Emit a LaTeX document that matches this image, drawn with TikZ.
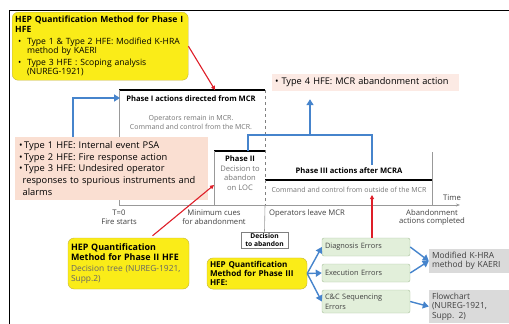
\documentclass[tikz,border=0pt]{standalone}
\usepackage{fontspec}
\setmainfont{Open Sans}
\usetikzlibrary{arrows.meta, positioning, calc}
\definecolor{hepyellow}{RGB}{250,236,24}
\definecolor{hepedge}{RGB}{196,180,60}
\definecolor{typepink}{RGB}{250,223,210}
\definecolor{typefour}{RGB}{252,234,228}
\definecolor{errgreen}{RGB}{226,239,218}
\definecolor{erredge}{RGB}{168,192,156}
\definecolor{methgray}{RGB}{218,218,218}
\definecolor{flowblue}{RGB}{70,132,204}
\definecolor{cuered}{RGB}{222,30,40}

\begin{document}
\begin{tikzpicture}[
    x=1pt, y=-1pt,
    hepbox/.style={draw=hepedge, fill=hepyellow, rounded corners=6pt, inner sep=3pt, align=left},
    typebox/.style={fill=typepink, inner sep=4pt, align=left},
    errbox/.style={draw=erredge, fill=errgreen, rounded corners=2pt, align=left, inner sep=3pt,
                   minimum width=88pt, text width=82pt, font=\fontsize{7.4}{8.8}\selectfont, text=black!75},
    methbox/.style={fill=methgray, align=left, inner sep=3pt, minimum width=80pt, text width=76pt,
                    font=\fontsize{8.4}{9.4}\selectfont, text=black!75},
    phaseline/.style={line width=1.4pt, black},
    guide/.style={gray!80, line width=0.6pt},
    phasetitle/.style={font=\bfseries\fontsize{7.6}{8.5}\selectfont},
    phasetext/.style={font=\fontsize{7}{9}\selectfont, text=gray!90!black, align=center, inner sep=1pt},
    ticklabel/.style={font=\fontsize{7.7}{8.8}\selectfont, text=black!75, align=center, inner sep=1pt},
    bluearrow/.style={-{Triangle[length=6pt, width=7pt]}, flowblue, line width=1.8pt},
    blueline/.style={flowblue, line width=1.8pt},
    redarrow/.style={-{Triangle[length=4pt, width=4pt]}, cuered, line width=1.1pt}
]
\useasboundingbox (0,0) rectangle (509,324);

% Marco
\draw[black, line width=1pt] (9,324) -- (9,10) -- (509,10);

% Metodo fase I
\node[hepbox, anchor=north west, minimum width=174pt, minimum height=68pt, text width=170pt,
      font=\fontsize{8.6}{9.6}\selectfont] (hepI) at (12,12) {%
    \textbf{HEP Quantification Method for Phase I}\\\textbf{HFE}\\[2pt]
    \ \textbullet\ \ Type 1 \& Type 2 HFE: Modified K-HRA\\
    \phantom{\ \textbullet\ \ }method by KAERI\\[2pt]
    \ \textbullet\ \ Type 3 HFE\ : Scoping analysis\\
    \phantom{\ \textbullet\ \ }(NUREG-1921)};

% Fase I
\draw[phaseline] (119,90) -- (265,90);
\draw[guide] (119,90) -- (119,205);
\node[phasetitle] (phaseI) at (191,99) {Phase I actions directed from MCR};
\node[phasetext] (phaseIdesc) at (191,122.5) {Operators remain in MCR.\\Command and control from the MCR.};

% Fase II
\draw[phaseline] (214,151) -- (265,151);
\draw[guide] (214,151) -- (214,205);
\node[phasetitle] (phaseII) at (240,159) {Phase II};
\node[phasetext, font=\fontsize{7.6}{9.4}\selectfont] (phaseIIdesc) at (240,178) {Decision to\\abandon\\on LOC};

% Fase III
\draw[phaseline] (265,180) -- (432,180);
\draw[guide] (432,152) -- (432,205);
\node[phasetitle] (phaseIII) at (349,171) {Phase III actions after MCRA};
\node[phasetext, font=\fontsize{7}{7.5}\selectfont] (phaseIIIdesc) at (349,190) {Command and control from outside of the MCR};

% Eje de tiempo
\draw[guide, -{Stealth[length=4pt]}] (119,205) -- (460,205);
\node[ticklabel, anchor=south] (time) at (452,202) {Time};
\draw[dashed, gray, line width=0.6pt] (265,90) -- (265,205);
\foreach \x/\top/\bot in {119/T=0/Fire starts, 214/Minimum cues/for abandonment, 432/Abandonment/actions completed} {
    \node[ticklabel] at (\x,217.5) {\top\\\bot};
}
\node[ticklabel, anchor=west] (leave) at (268,213) {Operators leave MCR};
\node[draw=gray, line width=0.6pt, font=\bfseries\fontsize{6.7}{7.8}\selectfont, align=center,
      minimum width=47pt, minimum height=16pt, inner sep=1pt] (decision) at (264.5,240) {Decision\\to abandon};
\draw[guide] (265,205) -- (decision.north);

% Tipos de HFE
\node[typebox, anchor=north west, minimum width=189pt, minimum height=60pt, text width=185pt,
      font=\fontsize{9.3}{11.8}\selectfont] (types) at (15,137) {%
    \textbullet\,Type 1 HFE: Internal event PSA\\
    \textbullet\,Type 2 HFE: Fire response action\\
    \textbullet\,Type 3 HFE: Undesired operator\\
    \phantom{\textbullet}responses to spurious instruments and\\
    \phantom{\textbullet}alarms};
\coordinate (phaseIin) at (120,98);
\draw[bluearrow] ($(types.north west)+(58,0)$) |- (phaseIin);

% Tipo 4
\node[fill=typefour, minimum width=185pt, minimum height=17pt, font=\fontsize{9.2}{11}\selectfont,
      text width=181pt, align=left] (type4) at (365.5,82.5) {\textbullet\ Type 4 HFE: MCR abandonment action};
\coordinate (phaseIItop) at (248,151);
\coordinate (phaseIIItop) at (372,165);
\coordinate (join) at (310,135);
\draw[blueline] (phaseIItop) |- (join) -| (phaseIIItop);
\draw[bluearrow] (join) -- ($(join |- type4.south)+(0,8)$);

% Metodo fase II
\node[hepbox, minimum width=121pt, minimum height=51pt, text width=115pt,
      font=\fontsize{8.4}{10.4}\selectfont] (hepII) at (128.5,263.5) {%
    {\fontsize{8.9}{10.4}\selectfont\bfseries HEP Quantification}\\
    {\fontsize{8.9}{10.4}\selectfont\bfseries Method for Phase II HFE}\\
    {\color{black!60}Decision tree (NUREG-1921,}\\{\color{black!60}Supp.2)}};
\coordinate (phaseIIin) at (214,185);
\coordinate (phaseIin red) at (215,90);
\draw[redarrow] (hepI.east) -- (phaseIin red);
\draw[redarrow] ($(hepII.north)+(24,-2)$) -- (phaseIIin);

% Metodo fase III
\node[hepbox, minimum width=98pt, minimum height=31pt, text width=94pt,
      font=\bfseries\fontsize{8.1}{9.4}\selectfont] (hepIII) at (257,273.5) {%
    HEP Quantification\\Method for Phase III\\HFE:};
\node[errbox, minimum height=18pt] (diag) at (366,247) {Diagnosis Errors};
\node[errbox, minimum height=18pt] (exec) at (366,273) {Execution Errors};
\node[errbox, minimum height=23pt, font=\fontsize{7.4}{9.8}\selectfont] (ccs) at (366,301.5) {C\&C Sequencing\\Errors};
\node[methbox, minimum height=22pt] (kaeri) at (470,261) {Modified K-HRA\\method by KAERI};
\node[methbox, minimum height=31pt] (flow) at (470,306.5) {Flowchart\\(NUREG-1921,\\Supp. 2)};
\coordinate (phaseIIIin) at (372,195);
\draw[redarrow, line width=1.4pt] (diag.north -| phaseIIIin) -- (phaseIIIin);

% Flechas de errores
\draw[bluearrow, line width=1.4pt] (hepIII.east) -- (diag.west);
\draw[bluearrow, line width=1.4pt] (hepIII.east) -- (exec.west);
\draw[bluearrow, line width=1.4pt] (hepIII.east) -- (ccs.west);
\draw[bluearrow, line width=1.4pt] (diag.east) -- (kaeri.west);
\draw[bluearrow, line width=1.4pt] (exec.east) -- (kaeri.west);
\draw[bluearrow, line width=1.4pt] (ccs.east) -- (flow.west);

\end{tikzpicture}
\end{document}
